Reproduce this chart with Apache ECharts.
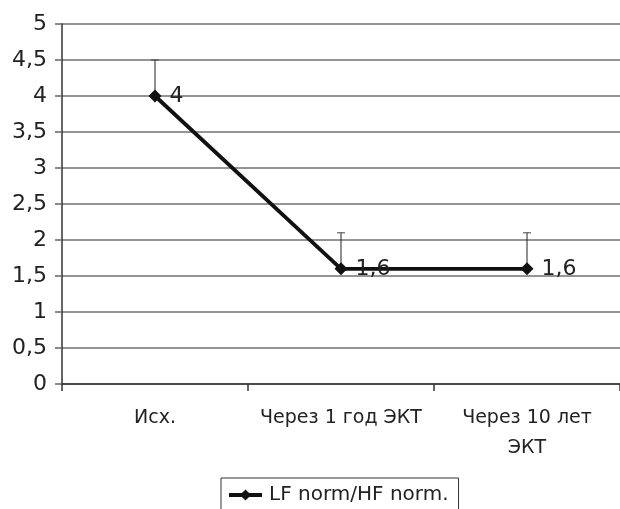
<!DOCTYPE html>
<html>
<head>
<meta charset="utf-8">
<script src="https://cdn.jsdelivr.net/npm/echarts@6/dist/echarts.min.js"></script>
<style>
  html, body { margin: 0; padding: 0; background: #fff; }
  #chart { width: 620px; height: 509px; }
</style>
</head>
<body>
<div id="chart"></div>
<script>
// Ratio LF norm / HF norm at three time points, with upward error bars
const categories = ['Исх.', 'Через 1 год ЭКТ', 'Через 10 лет\nЭКТ'];
const values = [4, 1.6, 1.6];
const errorsUp = [0.5, 0.5, 0.5];
const seriesName = 'LF norm/HF norm.';

const chart = echarts.init(document.getElementById('chart'));
const fontFamily = 'DejaVu Sans, sans-serif';
const comma = v => String(v).replace('.', ',');

chart.setOption({
  animation: false,
  grid: { left: 62, right: 0, top: 24, bottom: 125, containLabel: false },
  xAxis: {
    type: 'category',
    data: categories,
    boundaryGap: true,
    axisLine: { lineStyle: { color: '#333', width: 1.5 } },
    axisTick: { show: true, length: 7, lineStyle: { color: '#333', width: 1.5 } },
    axisLabel: {
      interval: 0, hideOverlap: false,
      color: '#222', fontSize: 19, fontFamily: fontFamily,
      margin: 19, lineHeight: 30
    }
  },
  yAxis: {
    type: 'value',
    min: 0, max: 5, interval: 0.5,
    axisLine: { show: true, lineStyle: { color: '#333', width: 1.5 } },
    axisTick: { show: true, length: 7, lineStyle: { color: '#666', width: 1.5 } },
    splitLine: { lineStyle: { color: '#707070', width: 1.5 } },
    axisLabel: {
      color: '#222', fontSize: 22, fontFamily: fontFamily, margin: 15,
      formatter: comma
    }
  },
  legend: {
    top: 478, left: 221,
    data: [seriesName],
    borderColor: '#333', borderWidth: 1, borderRadius: 0,
    padding: [7, 10, 12, 6],
    itemWidth: 33, itemHeight: 14, itemGap: 0,
    lineStyle: { width: 4 },
    textStyle: { color: '#222', fontSize: 20, fontFamily: fontFamily, padding: [0, 0, 0, 2] }
  },
  series: [
    {
      name: seriesName + ' err',
      type: 'custom',
      z: 1,
      data: values.map((v, i) => [i, v, v + errorsUp[i]]),
      renderItem: function (params, api) {
        const base = api.coord([api.value(0), api.value(1)]);
        const top = api.coord([api.value(0), api.value(2)]);
        const hw = 4;
        return {
          type: 'group',
          children: [
            { type: 'line', shape: { x1: base[0], y1: base[1], x2: top[0], y2: top[1] },
              style: { stroke: '#222', lineWidth: 1 } },
            { type: 'line', shape: { x1: top[0] - hw, y1: top[1], x2: top[0] + hw, y2: top[1] },
              style: { stroke: '#444', lineWidth: 1 } }
          ]
        };
      }
    },
    {
      name: seriesName,
      type: 'line',
      z: 3,
      data: values,
      symbol: 'diamond',
      symbolSize: 13,
      itemStyle: { color: '#111' },
      lineStyle: { color: '#111', width: 3.8 },
      label: {
        show: true, position: 'right', distance: 8,
        color: '#222', fontSize: 22, fontFamily: fontFamily,
        formatter: p => comma(p.value)
      }
    }
  ]
});
</script>
</body>
</html>
